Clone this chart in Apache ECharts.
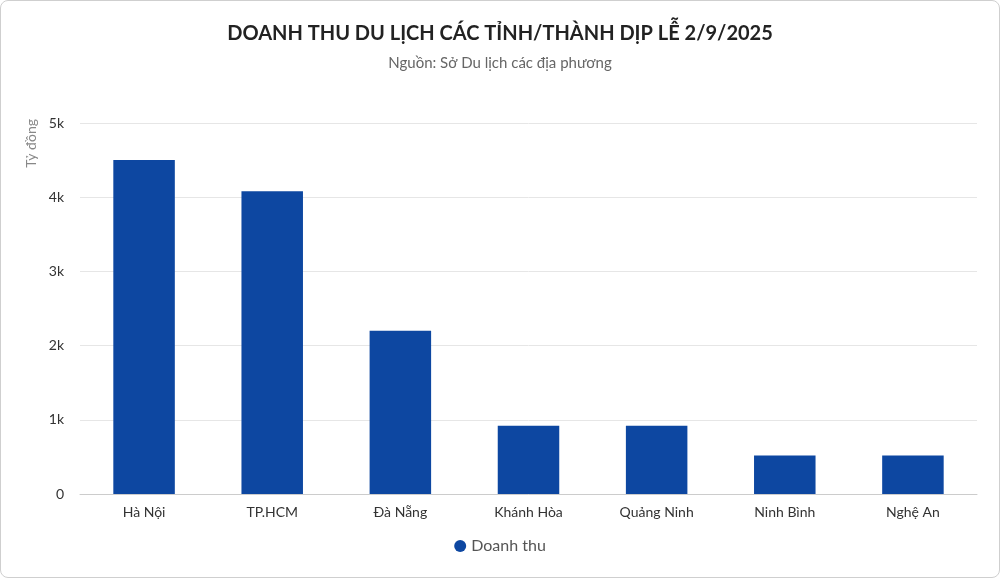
<!DOCTYPE html>
<html>
<head>
<meta charset="utf-8">
<script src="https://cdn.jsdelivr.net/npm/echarts@6/dist/echarts.min.js"></script>
<style>
  html, body { margin: 0; padding: 0; background: #fff; }
  #main {
    width: 998px;
    height: 576px;
    border: 1px solid #cfcfcf;
    border-radius: 8px;
  }
</style>
</head>
<body>
<div id="main"></div>
<script>
const categories = ["Hà Nội", "TP.HCM", "Đà Nẵng", "Khánh Hòa", "Quảng Ninh", "Ninh Bình", "Nghệ An"];
const revenue = [4500, 4080, 2200, 920, 920, 520, 520];
const yTicks = [0, 1000, 2000, 3000, 4000, 5000];

const font = "Lato, 'Noto Sans', sans-serif";
const myChart = echarts.init(document.getElementById("main"));

const option = {
  textStyle: { fontFamily: font },
  title: {
    text: "DOANH THU DU LỊCH CÁC TỈNH/THÀNH DỊP LỄ 2/9/2025",
    subtext: "Nguồn: Sở Du lịch các địa phương",
    left: "center",
    top: 18,
    itemGap: 12,
    textStyle: { fontFamily: font, fontSize: 20, fontWeight: "bold", color: "#222" },
    subtextStyle: { fontFamily: font, fontSize: 15, color: "#666" },
  },
  legend: {
    bottom: 18,
    left: "center",
    icon: "circle",
    itemWidth: 12,
    itemHeight: 12,
    textStyle: { fontFamily: font, fontSize: 16, color: "#555" },
    data: ["Doanh thu"],
  },
  grid: { left: 79, right: 22, top: 122, bottom: 83 },
  graphic: [
    {
      type: "text",
      left: 23,
      top: 118,
      rotation: Math.PI / 2,
      style: { text: "Tỷ đồng", fill: "#888", font: "14px " + font },
    },
  ],
  xAxis: {
    type: "category",
    data: categories,
    axisTick: { show: false },
    axisLine: { lineStyle: { color: "#cccccc" } },
    axisLabel: { color: "#333", fontSize: 14, margin: 11 },
  },
  yAxis: {
    type: "value",
    min: yTicks[0],
    max: yTicks[yTicks.length - 1],
    interval: 1000,
    axisLabel: {
      color: "#333",
      fontSize: 14,
      margin: 16,
      formatter: (v) => (v === 0 ? "0" : v / 1000 + "k"),
    },
    splitLine: { lineStyle: { color: "#e6e6e6" } },
  },
  series: [
    {
      name: "Doanh thu",
      type: "bar",
      data: revenue,
      barWidth: "48%",
      itemStyle: { color: "#0d47a1" },
    },
  ],
};

myChart.setOption(option);
</script>
</body>
</html>
